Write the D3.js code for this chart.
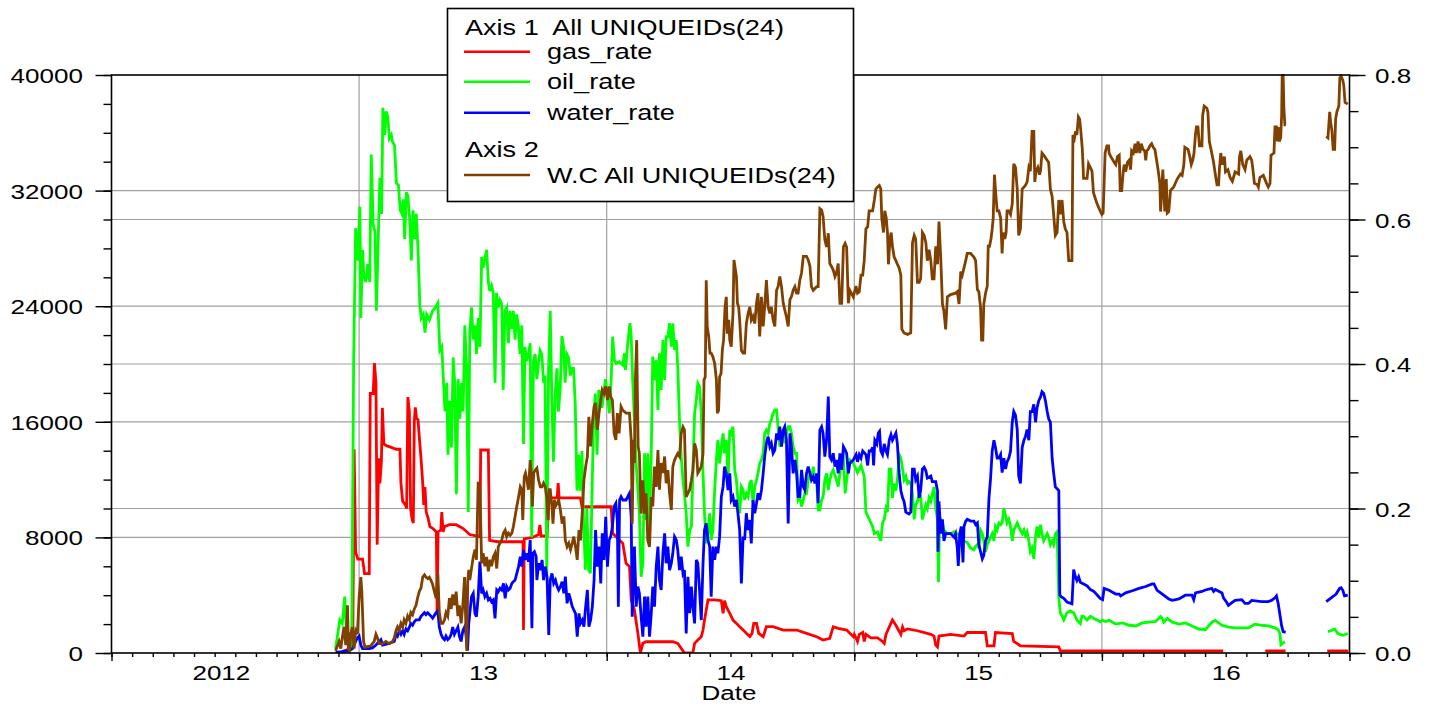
<!DOCTYPE html>
<html>
<head>
<meta charset="utf-8">
<script src="https://cdn.jsdelivr.net/npm/d3@7"></script>
<style>
  html, body { margin: 0; padding: 0; background: #fff; }
  svg { display: block; }
  text { font-family: "Liberation Sans", Arial, sans-serif; font-size: 21px; fill: #000; }
  .legend text { font-size: 21.5px; }
</style>
</head>
<body>
<svg id="chart" width="1432" height="706"></svg>
<script>
// ---- data: [decimal year, value] ----
const yearLabels = ["2012", "13", "14", "15", "16"];
const leftTicks  = [0, 8000, 16000, 24000, 32000, 40000];
const rightTicks = [0, 0.2, 0.4, 0.6, 0.8];

const gasRate = [
[2012.930,100],[2012.965,300],[2012.975,2000],[2012.980,14100],[2012.986,7000],[2012.995,6500],[2013.014,6500],[2013.022,5500],[2013.041,5500],[2013.045,17960],[2013.057,17960],[2013.062,20070],[2013.068,18700],[2013.073,7500],[2013.079,13480],[2013.084,11740],[2013.090,13230],[2013.094,16960],[2013.100,14470],[2013.110,14350],[2013.130,14230],[2013.150,14100],[2013.165,14100],[2013.169,11740],[2013.176,10490],[2013.187,10250],[2013.192,10000],[2013.197,17710],[2013.203,16710],[2013.208,10000],[2013.214,9250],[2013.219,9000],[2013.223,16010],[2013.227,17000],[2013.232,16260],[2013.238,16140],[2013.243,14970],[2013.250,13480],[2013.257,11740],[2013.261,10250],[2013.266,11490],[2013.271,9750],[2013.278,9380],[2013.286,8750],[2013.297,8630],[2013.312,8380],[2013.315,2790],[2013.319,8380],[2013.330,8510],[2013.334,9750],[2013.339,8380],[2013.345,8750],[2013.365,8880],[2013.392,8880],[2013.419,8630],[2013.447,8200],[2013.488,8050],[2013.491,14050],[2013.522,14050],[2013.527,7800],[2013.560,7700],[2013.600,7700],[2013.662,7700],[2013.664,1590],[2013.667,7900],[2013.700,8000],[2013.725,8200],[2013.730,8860],[2013.735,8100],[2013.759,8100],[2013.768,10730],[2013.800,10730],[2013.804,11760],[2013.808,10730],[2013.894,10730],[2013.900,10120],[2013.960,10130],[2014.018,10130],
[2014.024,8280],[2014.038,8050],[2014.051,7820],[2014.065,7590],[2014.078,6210],[2014.092,5980],[2014.099,3670],[2014.112,2980],[2014.126,1360],[2014.132,550],[2014.136,0],[2014.146,670],[2014.159,780],[2014.200,780],[2014.267,780],[2014.287,670],[2014.301,320],[2014.314,0],[2014.348,0],[2014.355,670],[2014.368,900],[2014.382,1130],[2014.389,1590],[2014.395,2280],[2014.402,2980],[2014.409,3670],[2014.436,3670],[2014.463,3620],[2014.470,2750],[2014.476,3620],[2014.483,3210],[2014.497,2750],[2014.510,2280],[2014.524,2050],[2014.537,1820],[2014.551,1590],[2014.564,1360],[2014.578,1130],[2014.587,1360],[2014.594,2050],[2014.605,2050],[2014.614,1360],[2014.632,1130],[2014.645,1820],[2014.672,1820],[2014.713,1590],[2014.767,1590],[2014.807,1360],[2014.848,1130],[2014.874,900],[2014.901,1020],[2014.915,1820],[2014.935,1710],[2014.969,1590],[2014.996,1130],
[2015.000,1290],[2015.013,800],[2015.020,1290],[2015.034,1420],[2015.040,800],[2015.047,1290],[2015.067,1040],[2015.094,1040],[2015.114,800],[2015.121,670],[2015.128,1290],[2015.141,1790],[2015.154,2290],[2015.168,1920],[2015.188,1290],[2015.195,1790],[2015.201,1540],[2015.215,1670],[2015.255,1540],[2015.309,1290],[2015.322,1170],[2015.329,550],[2015.336,420],[2015.342,1170],[2015.389,1290],[2015.443,1170],[2015.456,1420],[2015.497,1420],[2015.530,1420],[2015.537,500],[2015.564,500],[2015.570,1420],[2015.638,1340],[2015.644,800],[2015.671,500],[2015.826,420],[2015.832,170],[2016.034,150],[2016.490,150],[2016.570,null],[2016.660,150],[2016.742,150],[2016.820,null],[2016.910,150],[2016.995,150]
];

const oilRate = [
[2012.905,300],[2012.922,2290],[2012.932,2040],[2012.942,3900],[2012.949,1290],[2012.959,170],[2012.970,300],[2012.978,20190],[2012.986,29400],[2012.995,27160],[2013.003,30890],[2013.007,23180],[2013.014,27900],[2013.019,26160],[2013.027,25670],[2013.035,26910],[2013.043,25670],[2013.049,34500],[2013.057,29650],[2013.064,29150],[2013.070,23680],[2013.078,29150],[2013.084,32880],[2013.091,30390],[2013.096,37730],[2013.103,35860],[2013.109,37480],[2013.116,37110],[2013.122,35610],[2013.130,35860],[2013.135,35370],[2013.143,35120],[2013.151,32500],[2013.159,32380],[2013.166,30640],[2013.173,30390],[2013.178,31390],[2013.184,28650],[2013.191,31880],[2013.197,31640],[2013.204,30140],[2013.211,27160],[2013.218,30640],[2013.224,28650],[2013.231,30390],[2013.238,27900],[2013.245,24170],[2013.251,23180],[2013.259,23430],[2013.266,22180],[2013.273,23430],[2013.284,23050],[2013.297,23680],[2013.308,23920],[2013.318,24220],[2013.326,20940],[2013.334,21190],[2013.341,18700],[2013.347,16710],[2013.354,18700],[2013.359,13730],[2013.366,17460],[2013.373,14230],[2013.380,20440],[2013.386,18700],[2013.393,10990],[2013.400,18950],[2013.407,16210],[2013.414,18700],[2013.420,16710],[2013.427,22680],[2013.434,19700],[2013.441,9750],[2013.447,22180],[2013.454,23920],[2013.461,21690],[2013.468,22680],[2013.474,20690],[2013.481,23180],[2013.488,21190],[2013.495,27410],[2013.501,26660],[2013.508,27280],[2013.515,27900],[2013.522,25670],[2013.528,25040],[2013.535,25420],[2013.542,24920],[2013.549,18700],[2013.555,24920],[2013.562,23920],[2013.569,24420],[2013.576,24170],[2013.582,18200],[2013.589,23680],[2013.596,23920],[2013.603,21440],[2013.609,23680],[2013.616,22430],[2013.623,23680],[2013.630,21690],[2013.636,23430],[2013.643,22680],[2013.650,20690],[2013.657,22680],[2013.664,14470],[2013.670,21190],[2013.677,20190],[2013.684,20690],[2013.691,21440],[2013.697,8010],[2013.704,20190],[2013.711,20690],[2013.718,18950],[2013.724,19950],[2013.731,20940],[2013.738,20690],[2013.745,18700],[2013.751,19200],[2013.758,5520],[2013.765,19450],[2013.772,23680],[2013.778,17960],[2013.785,13230],[2013.792,17960],[2013.799,19700],[2013.805,16710],[2013.812,18200],[2013.819,21940],[2013.826,21190],[2013.832,18700],[2013.839,20690],[2013.846,20440],[2013.853,19200],[2013.859,19700],[2013.866,19700],[2013.873,17210],[2013.880,11240],[2013.886,13730],[2013.893,11240],[2013.900,13980],[2013.907,8750],[2013.914,5770],[2013.920,10000],[2013.927,5770],[2013.934,5520],[2013.941,11240],[2013.947,16210],[2013.954,17960],[2013.961,13730],[2013.968,18200],[2013.974,17960],[2013.981,16960],[2013.988,17960],[2013.995,18950],
[2014.011,16590],[2014.018,18890],[2014.024,21890],[2014.031,20280],[2014.038,20050],[2014.051,20160],[2014.065,19930],[2014.072,20740],[2014.076,19590],[2014.085,21430],[2014.094,22820],[2014.099,21890],[2014.105,18890],[2014.119,13130],[2014.132,9670],[2014.139,5280],[2014.146,6210],[2014.153,13820],[2014.159,9200],[2014.166,13820],[2014.173,8510],[2014.180,13820],[2014.186,20510],[2014.193,18890],[2014.200,20280],[2014.207,16820],[2014.213,20740],[2014.220,18200],[2014.227,21660],[2014.234,18890],[2014.240,21890],[2014.247,21890],[2014.254,22820],[2014.261,21200],[2014.267,22820],[2014.274,20970],[2014.281,21660],[2014.287,19820],[2014.294,16130],[2014.301,13590],[2014.308,11970],[2014.314,11050],[2014.321,9670],[2014.328,7360],[2014.335,8510],[2014.342,8740],[2014.348,12430],[2014.355,16590],[2014.362,17510],[2014.368,18660],[2014.375,18430],[2014.382,16590],[2014.389,12430],[2014.395,9670],[2014.402,7590],[2014.409,8280],[2014.416,9670],[2014.422,7820],[2014.429,8510],[2014.436,11280],[2014.443,13360],[2014.449,14740],[2014.456,13130],[2014.463,14280],[2014.470,15200],[2014.476,13820],[2014.483,14740],[2014.490,11970],[2014.497,15430],[2014.503,15200],[2014.510,15660],[2014.517,12670],[2014.524,11970],[2014.530,10590],[2014.537,9670],[2014.544,11510],[2014.551,11280],[2014.557,10590],[2014.564,11050],[2014.571,10820],[2014.578,11740],[2014.584,11970],[2014.591,10360],[2014.598,11510],[2014.605,11970],[2014.611,12430],[2014.618,13130],[2014.625,13360],[2014.632,13820],[2014.638,15200],[2014.645,15430],[2014.652,15200],[2014.659,15900],[2014.665,16130],[2014.672,16590],[2014.679,16820],[2014.686,16820],[2014.692,15660],[2014.699,14280],[2014.706,14740],[2014.713,15200],[2014.719,14510],[2014.726,15200],[2014.733,15660],[2014.740,15660],[2014.746,15200],[2014.753,14280],[2014.760,13820],[2014.767,13820],[2014.773,10590],[2014.780,10820],[2014.787,10130],[2014.794,10590],[2014.800,11050],[2014.807,11050],[2014.814,11970],[2014.821,12430],[2014.827,11970],[2014.834,12900],[2014.841,11970],[2014.848,11970],[2014.854,9900],[2014.861,9900],[2014.868,10590],[2014.874,10820],[2014.881,11970],[2014.888,12430],[2014.895,11280],[2014.901,11970],[2014.908,12430],[2014.915,12670],[2014.928,11970],[2014.935,11510],[2014.942,12430],[2014.949,13360],[2014.956,13590],[2014.963,11050],[2014.969,11970],[2014.976,12900],[2014.982,13360],[2014.996,13130],
[2015.000,12980],[2015.013,12480],[2015.027,12980],[2015.040,12240],[2015.047,9750],[2015.054,9500],[2015.067,9000],[2015.074,8750],[2015.081,8260],[2015.094,8380],[2015.101,8010],[2015.107,7760],[2015.114,9000],[2015.121,9250],[2015.128,10000],[2015.134,9750],[2015.141,12730],[2015.148,12730],[2015.154,10740],[2015.161,11740],[2015.168,11240],[2015.174,11990],[2015.181,13730],[2015.188,13480],[2015.195,12730],[2015.201,11990],[2015.208,12240],[2015.215,11740],[2015.221,11860],[2015.228,11740],[2015.235,10990],[2015.242,9250],[2015.248,10250],[2015.255,10490],[2015.262,10990],[2015.268,10870],[2015.275,9250],[2015.282,9750],[2015.289,10250],[2015.295,10000],[2015.302,10740],[2015.309,10490],[2015.315,10990],[2015.322,11490],[2015.329,10000],[2015.336,9250],[2015.340,4900],[2015.344,8750],[2015.349,9250],[2015.356,9000],[2015.362,8510],[2015.376,8260],[2015.389,8260],[2015.403,8380],[2015.416,8260],[2015.430,8130],[2015.443,7760],[2015.456,7640],[2015.470,7260],[2015.483,7140],[2015.490,7390],[2015.497,7510],[2015.503,7260],[2015.510,8510],[2015.517,8260],[2015.523,7760],[2015.530,7010],[2015.537,7510],[2015.544,7760],[2015.550,8010],[2015.557,8260],[2015.564,7760],[2015.570,8750],[2015.577,8510],[2015.584,9000],[2015.591,8880],[2015.597,9000],[2015.604,10000],[2015.611,9500],[2015.617,9000],[2015.624,9250],[2015.631,8750],[2015.638,7760],[2015.644,8510],[2015.651,8750],[2015.658,9000],[2015.664,8750],[2015.671,8510],[2015.678,8260],[2015.685,8510],[2015.691,8130],[2015.698,8380],[2015.705,7760],[2015.711,7010],[2015.718,7260],[2015.725,6520],[2015.732,8010],[2015.738,8750],[2015.745,8010],[2015.752,8880],[2015.758,8260],[2015.765,7760],[2015.772,8010],[2015.779,8260],[2015.785,8010],[2015.792,7510],[2015.799,7760],[2015.805,7510],[2015.812,8260],[2015.819,8380],[2015.826,3780],[2015.832,2790],[2015.846,2290],[2015.859,2790],[2015.872,2910],[2015.886,2790],[2015.899,2290],[2015.913,2040],[2015.919,2540],[2015.926,2540],[2015.940,2290],[2015.953,2540],[2015.966,2410],[2015.980,2290],[2015.993,2160],
[2016.003,2260],[2016.016,2180],[2016.029,2260],[2016.043,2130],[2016.056,2000],[2016.083,2080],[2016.110,1920],[2016.137,1870],[2016.163,2080],[2016.190,2130],[2016.217,2180],[2016.237,2520],[2016.244,2390],[2016.250,2130],[2016.264,2390],[2016.284,2130],[2016.311,2000],[2016.337,2080],[2016.364,1870],[2016.391,1660],[2016.418,1610],[2016.431,1870],[2016.444,2130],[2016.458,2260],[2016.485,1920],[2016.511,1790],[2016.538,1740],[2016.565,1740],[2016.592,1740],[2016.605,1870],[2016.618,2000],[2016.645,1920],[2016.672,1870],[2016.699,1740],[2016.712,1610],[2016.719,1350],[2016.723,570],[2016.732,700],[2016.739,780],[2016.800,null],[2016.913,1480],[2016.926,1560],[2016.940,1660],[2016.953,1350],[2016.973,1220],[2016.993,1350]
];

const waterRate = [
[2012.905,50],[2012.932,100],[2012.959,170],[2012.973,300],[2012.980,550],[2012.986,800],[2012.993,1040],[2013.000,1170],[2013.007,550],[2013.014,300],[2013.041,300],[2013.054,350],[2013.068,550],[2013.081,800],[2013.088,920],[2013.095,550],[2013.122,670],[2013.142,800],[2013.149,1290],[2013.155,1170],[2013.162,1540],[2013.169,1290],[2013.176,1540],[2013.182,1290],[2013.189,1670],[2013.196,1540],[2013.203,1790],[2013.209,2040],[2013.216,1920],[2013.223,2160],[2013.230,2290],[2013.243,2290],[2013.250,2540],[2013.257,2660],[2013.264,2790],[2013.270,2660],[2013.277,2790],[2013.291,2540],[2013.297,2410],[2013.311,2790],[2013.318,2910],[2013.324,1790],[2013.331,1290],[2013.338,1040],[2013.345,920],[2013.351,1170],[2013.358,920],[2013.365,1040],[2013.372,1290],[2013.378,1790],[2013.385,1290],[2013.392,1540],[2013.399,1790],[2013.405,1170],[2013.412,800],[2013.419,1540],[2013.426,1790],[2013.432,1290],[2013.438,170],[2013.443,2040],
[2013.447,2745],[2013.454,3900],[2013.461,4130],[2013.468,2745],[2013.474,2510],[2013.481,3900],[2013.488,6320],[2013.495,4130],[2013.501,4360],[2013.508,3900],[2013.515,4130],[2013.522,3670],[2013.529,3780],[2013.535,3550],[2013.542,3670],[2013.549,2400],[2013.556,4360],[2013.562,4240],[2013.569,4480],[2013.576,4360],[2013.583,4820],[2013.590,3780],[2013.596,4590],[2013.603,4360],[2013.610,4480],[2013.617,4820],[2013.623,4940],[2013.630,5050],[2013.637,5510],[2013.644,5980],[2013.651,6670],[2013.657,5980],[2013.664,7130],[2013.671,6440],[2013.678,6900],[2013.684,6320],[2013.691,7820],[2013.698,1710],[2013.702,6900],[2013.708,7010],[2013.715,6670],[2013.718,5050],[2013.725,6210],[2013.732,5740],[2013.739,6440],[2013.745,5050],[2013.752,5980],[2013.759,5280],[2013.766,1250],[2013.772,5050],[2013.779,5510],[2013.786,4820],[2013.793,5050],[2013.800,4590],[2013.806,4360],[2013.813,4590],[2013.820,4940],[2013.827,4130],[2013.833,5280],[2013.840,3440],[2013.847,4130],[2013.854,3670],[2013.861,3210],[2013.867,2980],[2013.874,2745],[2013.881,1130],[2013.888,2745],[2013.894,2050],[2013.901,2280],[2013.908,1820],[2013.915,3210],[2013.922,4360],[2013.928,1820],[2013.935,2280],[2013.942,3210],[2013.949,5050],[2013.955,8510],[2013.962,5980],[2013.969,7360],[2013.976,4820],[2013.982,8280],[2013.989,6440],[2013.996,9430],[2014.003,5980],[2014.010,7820],[2014.016,8050],[2014.023,8740],[2014.030,10130],[2014.037,10360],[2014.043,9200],[2014.047,3210],
[2014.052,10590],[2014.058,10820],[2014.065,10590],[2014.078,10590],[2014.092,11050],[2014.099,9440],[2014.103,2510],[2014.112,7360],[2014.119,3210],[2014.126,4590],[2014.132,4130],[2014.139,2510],[2014.146,1130],[2014.153,3900],[2014.159,1820],[2014.166,3900],[2014.173,1130],[2014.180,2750],[2014.186,4590],[2014.193,3210],[2014.200,5980],[2014.207,7360],[2014.213,5050],[2014.220,4360],[2014.227,6900],[2014.234,8280],[2014.240,6210],[2014.247,7360],[2014.254,5740],[2014.261,6210],[2014.267,6900],[2014.274,8050],[2014.281,7820],[2014.287,7130],[2014.294,5740],[2014.301,6670],[2014.308,5510],[2014.314,5740],[2014.321,1360],[2014.328,5280],[2014.335,2750],[2014.342,4590],[2014.348,3210],[2014.355,2050],[2014.362,6440],[2014.368,6210],[2014.375,4360],[2014.382,2280],[2014.389,6210],[2014.395,8510],[2014.402,8970],[2014.409,7820],[2014.416,7360],[2014.422,3900],[2014.429,7360],[2014.436,6440],[2014.443,7360],[2014.449,6900],[2014.456,8050],[2014.463,10820],[2014.470,11510],[2014.476,12900],[2014.483,12430],[2014.490,11280],[2014.497,12430],[2014.503,10590],[2014.510,10820],[2014.517,10130],[2014.524,10590],[2014.530,9670],[2014.537,8510],[2014.544,4820],[2014.551,8050],[2014.557,7820],[2014.564,9670],[2014.571,8510],[2014.578,9200],[2014.584,7590],[2014.591,10590],[2014.598,9670],[2014.605,10360],[2014.611,11050],[2014.618,10590],[2014.625,11280],[2014.632,12430],[2014.638,13590],[2014.645,14510],[2014.652,14970],[2014.659,14280],[2014.665,14510],[2014.672,13820],[2014.679,14050],[2014.686,15200],[2014.692,14740],[2014.699,15660],[2014.706,14280],[2014.713,15430],[2014.719,15660],[2014.726,14740],[2014.733,8970],[2014.740,15200],[2014.746,14280],[2014.753,12430],[2014.760,13360],[2014.767,12430],[2014.773,10820],[2014.780,10820],[2014.787,12670],[2014.794,11510],[2014.800,11280],[2014.807,12430],[2014.814,12900],[2014.821,12430],[2014.827,11970],[2014.834,12200],[2014.841,11740],[2014.848,12430],[2014.854,10360],[2014.861,15430],[2014.868,15660],[2014.874,15200],[2014.881,13590],[2014.888,14740],[2014.895,17740],[2014.901,13590],[2014.908,13360],[2014.915,13820],[2014.922,12900],[2014.928,13360],[2014.935,12430],[2014.942,13820],[2014.949,12670],[2014.956,14280],[2014.963,14050],[2014.969,13820],[2014.976,12430],[2014.982,13130],[2014.996,13360],
[2015.007,13730],[2015.013,13230],[2015.020,13730],[2015.027,13480],[2015.034,13980],[2015.047,13730],[2015.054,12980],[2015.060,13980],[2015.067,13980],[2015.074,14230],[2015.078,12980],[2015.083,14720],[2015.091,14470],[2015.097,15220],[2015.102,15340],[2015.107,13980],[2015.114,13730],[2015.121,14470],[2015.128,13980],[2015.134,13730],[2015.141,14720],[2015.148,15100],[2015.154,14720],[2015.161,14970],[2015.168,15220],[2015.174,14470],[2015.181,12480],[2015.188,11240],[2015.195,10740],[2015.201,10490],[2015.208,9750],[2015.221,9620],[2015.228,9750],[2015.235,12730],[2015.242,12730],[2015.248,11990],[2015.255,12240],[2015.262,10740],[2015.268,11240],[2015.275,12730],[2015.282,12860],[2015.289,12610],[2015.295,12110],[2015.309,12240],[2015.315,11860],[2015.329,11860],[2015.336,11240],[2015.338,7010],[2015.342,10490],[2015.349,8260],[2015.356,9250],[2015.362,7760],[2015.369,8260],[2015.389,8260],[2015.403,8010],[2015.409,8260],[2015.416,7260],[2015.420,6020],[2015.426,8260],[2015.432,8750],[2015.439,6270],[2015.443,8750],[2015.450,9130],[2015.456,9250],[2015.470,9130],[2015.483,9130],[2015.490,8880],[2015.497,9000],[2015.503,7510],[2015.510,7010],[2015.517,6520],[2015.523,6760],[2015.530,7760],[2015.537,8010],[2015.544,10740],[2015.550,11990],[2015.557,13980],[2015.564,14720],[2015.570,14230],[2015.577,13480],[2015.584,13480],[2015.591,13730],[2015.597,12480],[2015.604,13480],[2015.611,12730],[2015.617,13230],[2015.624,13480],[2015.631,13980],[2015.638,15970],[2015.644,16710],[2015.651,16460],[2015.658,15470],[2015.664,12240],[2015.671,11740],[2015.678,14230],[2015.685,14720],[2015.691,14970],[2015.698,15470],[2015.705,14720],[2015.711,16710],[2015.718,16710],[2015.725,17210],[2015.732,15970],[2015.738,16960],[2015.745,17460],[2015.752,17710],[2015.758,18080],[2015.765,17960],[2015.772,17460],[2015.779,16710],[2015.785,16210],[2015.792,15970],[2015.799,13480],[2015.805,12480],[2015.812,11490],[2015.819,11370],[2015.826,11240],[2015.830,4030],[2015.835,3900],[2015.846,3780],[2015.859,3530],[2015.879,3410],[2015.886,5770],[2015.893,5270],[2015.899,5020],[2015.906,5270],[2015.913,4900],[2015.926,4780],[2015.940,4650],[2015.953,4400],[2015.966,4280],[2015.980,4030],[2015.993,3780],
[2016.003,3690],[2016.009,4470],[2016.029,4340],[2016.043,4210],[2016.056,4080],[2016.070,4080],[2016.076,3950],[2016.096,4160],[2016.123,4310],[2016.150,4470],[2016.177,4600],[2016.203,4780],[2016.210,4780],[2016.223,4340],[2016.244,4080],[2016.270,3740],[2016.284,3640],[2016.311,3740],[2016.337,4000],[2016.364,4000],[2016.371,3690],[2016.378,4160],[2016.404,4260],[2016.418,4360],[2016.444,4470],[2016.451,4260],[2016.458,4390],[2016.485,4160],[2016.491,3820],[2016.505,3480],[2016.511,3300],[2016.525,3480],[2016.538,3640],[2016.565,3690],[2016.578,3430],[2016.592,3430],[2016.605,3640],[2016.645,3560],[2016.672,3560],[2016.685,3640],[2016.699,3820],[2016.705,3950],[2016.712,3430],[2016.719,2650],[2016.726,1870],[2016.732,1480],[2016.742,1430],[2016.800,null],[2016.906,3560],[2016.926,3820],[2016.946,4080],[2016.960,4470],[2016.966,4520],[2016.973,4340],[2016.980,3950],[2016.993,4000]
];

const waterCut = [
[2012.905,0.003],[2012.919,0.016],[2012.926,0.006],[2012.932,0.021],[2012.939,0.036],[2012.946,0.011],[2012.953,0.066],[2012.957,0.006],[2012.962,0.003],[2012.966,0.026],[2012.973,0.036],[2012.980,0.006],[2012.986,0.031],[2012.993,0.026],[2013.000,0.076],[2013.007,0.105],[2013.011,0.085],[2013.014,0.056],[2013.018,0.016],[2013.024,0.008],[2013.047,0.010],[2013.061,0.016],[2013.068,0.026],[2013.074,0.021],[2013.081,0.013],[2013.095,0.013],[2013.108,0.016],[2013.122,0.013],[2013.135,0.016],[2013.142,0.021],[2013.149,0.031],[2013.155,0.036],[2013.162,0.031],[2013.169,0.041],[2013.176,0.036],[2013.182,0.046],[2013.189,0.041],[2013.196,0.051],[2013.203,0.046],[2013.209,0.056],[2013.216,0.053],[2013.223,0.061],[2013.230,0.066],[2013.236,0.076],[2013.243,0.085],[2013.250,0.090],[2013.257,0.105],[2013.264,0.108],[2013.270,0.105],[2013.277,0.103],[2013.284,0.105],[2013.291,0.100],[2013.297,0.095],[2013.304,0.085],[2013.311,0.076],[2013.318,0.110],[2013.324,0.056],[2013.331,0.041],[2013.338,0.041],[2013.345,0.046],[2013.351,0.056],[2013.358,0.051],[2013.365,0.076],[2013.372,0.061],[2013.378,0.081],[2013.385,0.066],[2013.392,0.085],[2013.399,0.051],[2013.405,0.066],[2013.412,0.041],[2013.419,0.066],[2013.426,0.105],[2013.432,0.026],[2013.435,0.003],[2013.439,0.100],[2013.443,0.115],
[2013.447,0.101],[2013.461,0.133],[2013.468,0.143],[2013.474,0.129],[2013.481,0.237],[2013.488,0.226],[2013.495,0.124],[2013.501,0.138],[2013.508,0.120],[2013.515,0.133],[2013.522,0.113],[2013.529,0.129],[2013.535,0.120],[2013.542,0.133],[2013.549,0.138],[2013.556,0.117],[2013.562,0.147],[2013.569,0.152],[2013.576,0.156],[2013.583,0.166],[2013.590,0.170],[2013.596,0.161],[2013.603,0.166],[2013.610,0.163],[2013.617,0.166],[2013.623,0.175],[2013.630,0.189],[2013.637,0.203],[2013.644,0.216],[2013.651,0.230],[2013.657,0.226],[2013.661,0.184],[2013.667,0.244],[2013.672,0.249],[2013.678,0.239],[2013.684,0.226],[2013.691,0.267],[2013.695,0.249],[2013.700,0.203],[2013.705,0.249],[2013.711,0.253],[2013.718,0.256],[2013.725,0.239],[2013.732,0.230],[2013.739,0.230],[2013.745,0.235],[2013.752,0.230],[2013.759,0.212],[2013.763,0.184],[2013.768,0.226],[2013.772,0.226],[2013.779,0.203],[2013.783,0.179],[2013.789,0.212],[2013.793,0.203],[2013.800,0.207],[2013.806,0.212],[2013.813,0.198],[2013.820,0.179],[2013.827,0.189],[2013.833,0.156],[2013.840,0.147],[2013.847,0.152],[2013.854,0.143],[2013.861,0.152],[2013.867,0.161],[2013.874,0.147],[2013.881,0.129],[2013.888,0.170],[2013.894,0.156],[2013.901,0.193],[2013.908,0.239],[2013.915,0.258],[2013.922,0.272],[2013.928,0.327],[2013.935,0.286],[2013.942,0.318],[2013.949,0.341],[2013.955,0.346],[2013.962,0.309],[2013.969,0.332],[2013.976,0.350],[2013.982,0.364],[2013.989,0.359],[2013.996,0.369],[2014.003,0.350],[2014.010,0.369],[2014.016,0.355],[2014.023,0.350],[2014.030,0.304],[2014.037,0.295],[2014.043,0.332],[2014.050,0.304],
[2014.058,0.341],[2014.065,0.336],[2014.078,0.332],[2014.092,0.332],[2014.099,0.295],[2014.103,0.179],[2014.108,0.295],[2014.112,0.263],[2014.116,0.378],[2014.121,0.433],[2014.127,0.286],[2014.132,0.276],[2014.139,0.193],[2014.146,0.239],[2014.153,0.193],[2014.159,0.221],[2014.166,0.156],[2014.173,0.147],[2014.180,0.216],[2014.186,0.203],[2014.193,0.258],[2014.200,0.230],[2014.207,0.281],[2014.213,0.226],[2014.220,0.263],[2014.227,0.249],[2014.234,0.272],[2014.240,0.235],[2014.247,0.253],[2014.254,0.221],[2014.261,0.198],[2014.267,0.258],[2014.274,0.267],[2014.281,0.272],[2014.287,0.276],[2014.294,0.272],[2014.301,0.304],[2014.308,0.313],[2014.314,0.309],[2014.321,0.216],[2014.328,0.221],[2014.335,0.226],[2014.342,0.239],[2014.348,0.253],[2014.355,0.290],[2014.362,0.281],[2014.368,0.249],[2014.375,0.253],[2014.382,0.258],[2014.389,0.276],[2014.393,0.378],[2014.398,0.382],[2014.402,0.516],[2014.406,0.452],[2014.412,0.438],[2014.417,0.415],[2014.422,0.415],[2014.429,0.410],[2014.436,0.401],[2014.443,0.378],[2014.447,0.332],[2014.452,0.336],[2014.456,0.382],[2014.462,0.387],[2014.467,0.419],[2014.472,0.433],[2014.478,0.479],[2014.483,0.493],[2014.487,0.442],[2014.493,0.461],[2014.497,0.433],[2014.503,0.424],[2014.510,0.470],[2014.514,0.544],[2014.520,0.530],[2014.524,0.521],[2014.528,0.484],[2014.533,0.479],[2014.537,0.461],[2014.544,0.419],[2014.551,0.415],[2014.557,0.415],[2014.564,0.456],[2014.571,0.470],[2014.578,0.479],[2014.584,0.461],[2014.591,0.466],[2014.598,0.456],[2014.605,0.484],[2014.611,0.498],[2014.618,0.438],[2014.625,0.493],[2014.632,0.452],[2014.638,0.479],[2014.645,0.516],[2014.652,0.479],[2014.659,0.470],[2014.665,0.479],[2014.672,0.461],[2014.679,0.452],[2014.686,0.502],[2014.692,0.507],[2014.699,0.521],[2014.706,0.507],[2014.713,0.484],[2014.719,0.475],[2014.726,0.465],[2014.733,0.452],[2014.740,0.489],[2014.746,0.493],[2014.753,0.502],[2014.760,0.507],[2014.767,0.498],[2014.773,0.498],[2014.780,0.516],[2014.787,0.526],[2014.794,0.549],[2014.807,0.549],[2014.814,0.544],[2014.821,0.535],[2014.827,0.507],[2014.834,0.502],[2014.848,0.507],[2014.854,0.507],[2014.861,0.615],[2014.868,0.613],[2014.874,0.604],[2014.881,0.572],[2014.888,0.562],[2014.895,0.581],[2014.901,0.539],[2014.908,0.535],[2014.915,0.530],[2014.922,0.521],[2014.928,0.526],[2014.935,0.539],[2014.942,0.484],[2014.949,0.484],[2014.956,0.562],[2014.963,0.567],[2014.969,0.562],[2014.976,0.484],[2014.982,0.502],[2014.996,0.493],
[2015.007,0.508],[2015.013,0.498],[2015.020,0.500],[2015.027,0.523],[2015.034,0.523],[2015.040,0.543],[2015.047,0.587],[2015.054,0.590],[2015.060,0.612],[2015.074,0.612],[2015.081,0.627],[2015.087,0.642],[2015.094,0.645],[2015.101,0.647],[2015.107,0.642],[2015.111,0.602],[2015.118,0.582],[2015.123,0.612],[2015.129,0.602],[2015.134,0.582],[2015.138,0.538],[2015.144,0.573],[2015.149,0.582],[2015.154,0.563],[2015.161,0.548],[2015.168,0.543],[2015.174,0.538],[2015.181,0.533],[2015.188,0.523],[2015.192,0.448],[2015.201,0.443],[2015.215,0.441],[2015.228,0.443],[2015.235,0.568],[2015.242,0.578],[2015.248,0.573],[2015.255,0.513],[2015.262,0.513],[2015.268,0.518],[2015.275,0.582],[2015.282,0.578],[2015.289,0.568],[2015.295,0.543],[2015.302,0.558],[2015.309,0.543],[2015.315,0.518],[2015.322,0.518],[2015.329,0.563],[2015.336,0.538],[2015.342,0.597],[2015.349,0.548],[2015.356,0.483],[2015.362,0.473],[2015.369,0.448],[2015.376,0.493],[2015.389,0.496],[2015.409,0.498],[2015.416,0.500],[2015.423,0.483],[2015.430,0.528],[2015.436,0.523],[2015.443,0.533],[2015.450,0.543],[2015.456,0.553],[2015.470,0.553],[2015.483,0.548],[2015.490,0.543],[2015.497,0.503],[2015.503,0.500],[2015.510,0.478],[2015.514,0.433],[2015.519,0.433],[2015.523,0.483],[2015.530,0.498],[2015.537,0.508],[2015.541,0.563],[2015.546,0.563],[2015.552,0.573],[2015.557,0.587],[2015.561,0.602],[2015.566,0.662],[2015.572,0.632],[2015.577,0.612],[2015.584,0.612],[2015.591,0.602],[2015.597,0.553],[2015.601,0.582],[2015.608,0.573],[2015.613,0.582],[2015.617,0.612],[2015.624,0.612],[2015.631,0.607],[2015.638,0.622],[2015.644,0.677],[2015.651,0.672],[2015.658,0.642],[2015.664,0.578],[2015.671,0.587],[2015.678,0.642],[2015.691,0.647],[2015.698,0.652],[2015.705,0.672],[2015.711,0.667],[2015.718,0.722],[2015.725,0.722],[2015.729,0.652],[2015.734,0.667],[2015.741,0.672],[2015.748,0.662],[2015.752,0.667],[2015.758,0.692],[2015.765,0.689],[2015.779,0.682],[2015.785,0.679],[2015.792,0.642],[2015.799,0.632],[2015.805,0.607],[2015.812,0.578],[2015.819,0.582],[2015.826,0.627],[2015.832,0.607],[2015.839,0.627],[2015.846,0.597],[2015.852,0.587],[2015.859,0.582],[2015.866,0.543],[2015.879,0.543],[2015.883,0.717],[2015.889,0.712],[2015.894,0.722],[2015.899,0.717],[2015.905,0.742],[2015.910,0.739],[2015.915,0.722],[2015.921,0.697],[2015.926,0.657],[2015.940,0.657],[2015.946,0.677],[2015.953,0.672],[2015.960,0.667],[2015.966,0.637],[2015.980,0.622],[2015.993,0.612],[2016.000,0.607],
[2016.005,0.609],[2016.009,0.650],[2016.013,0.692],[2016.020,0.702],[2016.027,0.702],[2016.029,0.692],[2016.036,0.687],[2016.050,0.679],[2016.056,0.676],[2016.063,0.687],[2016.070,0.689],[2016.074,0.640],[2016.080,0.640],[2016.086,0.666],[2016.090,0.676],[2016.096,0.666],[2016.103,0.679],[2016.110,0.682],[2016.116,0.669],[2016.120,0.695],[2016.127,0.692],[2016.134,0.705],[2016.139,0.692],[2016.146,0.708],[2016.153,0.692],[2016.159,0.705],[2016.166,0.697],[2016.173,0.695],[2016.177,0.682],[2016.181,0.695],[2016.187,0.697],[2016.194,0.702],[2016.201,0.705],[2016.207,0.700],[2016.214,0.697],[2016.221,0.682],[2016.228,0.666],[2016.234,0.650],[2016.237,0.611],[2016.241,0.635],[2016.246,0.669],[2016.250,0.640],[2016.254,0.611],[2016.260,0.656],[2016.264,0.609],[2016.270,0.611],[2016.277,0.640],[2016.290,0.645],[2016.304,0.656],[2016.317,0.663],[2016.324,0.661],[2016.331,0.676],[2016.335,0.700],[2016.348,0.697],[2016.355,0.687],[2016.361,0.676],[2016.367,0.682],[2016.372,0.692],[2016.378,0.718],[2016.382,0.728],[2016.388,0.728],[2016.394,0.702],[2016.404,0.702],[2016.407,0.744],[2016.413,0.757],[2016.424,0.754],[2016.428,0.749],[2016.434,0.708],[2016.442,0.695],[2016.451,0.679],[2016.461,0.656],[2016.465,0.648],[2016.471,0.648],[2016.475,0.671],[2016.480,0.692],[2016.486,0.676],[2016.495,0.687],[2016.499,0.666],[2016.509,0.669],[2016.518,0.658],[2016.527,0.653],[2016.538,0.666],[2016.552,0.663],[2016.556,0.687],[2016.561,0.695],[2016.569,0.676],[2016.578,0.669],[2016.585,0.682],[2016.598,0.687],[2016.605,0.682],[2016.610,0.669],[2016.616,0.650],[2016.628,0.648],[2016.632,0.645],[2016.638,0.658],[2016.652,0.661],[2016.665,0.650],[2016.672,0.645],[2016.679,0.650],[2016.683,0.689],[2016.695,0.692],[2016.699,0.728],[2016.705,0.728],[2016.709,0.708],[2016.712,0.728],[2016.716,0.708],[2016.722,0.713],[2016.726,0.744],[2016.728,0.798],[2016.732,0.800],[2016.735,0.754],[2016.739,0.731],[2016.743,0.731],[2016.800,null],[2016.906,0.715],[2016.913,0.713],[2016.920,0.749],[2016.924,0.734],[2016.929,0.723],[2016.934,0.697],[2016.940,0.697],[2016.944,0.739],[2016.949,0.749],[2016.957,0.757],[2016.961,0.796],[2016.966,0.798],[2016.973,0.793],[2016.977,0.785],[2016.982,0.762],[2016.993,0.760]
];

// ---- layout ----
const svg = d3.select("#chart");
const plot = { left: 111.5, right: 1349.5, top: 75, bottom: 653 };
const SX = 1.24; // the source picture has horizontally stretched lettering

const x  = d3.scaleLinear().domain([2012, 2017]).range([plot.left, plot.right]);
const yL = d3.scaleLinear().domain([0, 40000]).range([plot.bottom, plot.top]);
const yR = d3.scaleLinear().domain([0, 0.8]).range([plot.bottom, plot.top]);

// gridlines
const grid = svg.append("g").attr("stroke", "#a0a0a0").attr("stroke-width", 1.2);
grid.selectAll(".gl").data(leftTicks.slice(1, -1)).join("line")
  .attr("x1", plot.left).attr("x2", plot.right)
  .attr("y1", d => yL(d)).attr("y2", d => yL(d));
grid.selectAll(".gr").data(rightTicks.slice(1, -1)).join("line")
  .attr("x1", plot.left).attr("x2", plot.right)
  .attr("y1", d => yR(d)).attr("y2", d => yR(d));
grid.selectAll(".gv").data([2013, 2014, 2015, 2016]).join("line")
  .attr("x1", d => x(d)).attr("x2", d => x(d))
  .attr("y1", plot.top).attr("y2", plot.bottom);

// series
svg.append("clipPath").attr("id", "plotClip").append("rect")
  .attr("x", plot.left).attr("y", plot.top - 1)
  .attr("width", plot.right - plot.left).attr("height", plot.bottom - plot.top + 1);

const series = svg.append("g").attr("clip-path", "url(#plotClip)");
function drawLine(data, yScale, color) {
  const line = d3.line()
    .defined(d => d[1] != null)
    .x(d => x(d[0]))
    .y(d => yScale(d[1]));
  series.append("path")
    .datum(data)
    .attr("d", line)
    .attr("fill", "none")
    .attr("stroke", color)
    .attr("stroke-width", 2.8);
}
drawLine(gasRate, yL, "#ff0000");
drawLine(oilRate, yL, "#00ff00");
drawLine(waterRate, yL, "#0000ff");
drawLine(waterCut, yR, "#804000");

// axes
function styleAxis(g) {
  g.select(".domain").remove();
  g.selectAll("line").attr("stroke", "#000").attr("stroke-width", 1.4);
}

const axL = svg.append("g").attr("transform", `translate(${plot.left},0)`)
  .call(d3.axisLeft(yL).tickValues(d3.range(0, 40001, 2000)).tickSize(8).tickFormat(""));
styleAxis(axL);
const axL2 = svg.append("g").attr("transform", `translate(${plot.left},0)`)
  .call(d3.axisLeft(yL).tickValues(leftTicks).tickSize(16).tickFormat(d3.format("d")));
styleAxis(axL2);
axL2.selectAll("text")
  .attr("x", 0).attr("dy", "0.36em")
  .attr("text-anchor", "end")
  .attr("transform", `translate(-28.5,0) scale(${SX},1)`);

const axR = svg.append("g").attr("transform", `translate(${plot.right},0)`)
  .call(d3.axisRight(yR).tickValues(d3.range(0, 0.8001, 0.05)).tickSize(9).tickFormat(""));
styleAxis(axR);
const axR2 = svg.append("g").attr("transform", `translate(${plot.right},0)`)
  .call(d3.axisRight(yR).tickValues(rightTicks).tickSize(16).tickFormat(d3.format(".1f")));
styleAxis(axR2);
axR2.selectAll("text")
  .attr("x", 0).attr("dy", "0.36em")
  .attr("text-anchor", "start")
  .attr("transform", `translate(25.5,0) scale(${SX},1)`);

const monthTicks = d3.range(0, 61).map(i => 2012 + i / 12);
const axB = svg.append("g").attr("transform", `translate(0,${plot.bottom})`)
  .call(d3.axisBottom(x).tickValues(monthTicks).tickSize(4).tickFormat(""));
styleAxis(axB);
const axB2 = svg.append("g").attr("transform", `translate(0,${plot.bottom})`)
  .call(d3.axisBottom(x).tickValues([2012, 2013, 2014, 2015, 2016, 2017]).tickSize(8).tickFormat(""));
styleAxis(axB2);
const axB3 = svg.append("g").attr("transform", `translate(0,${plot.bottom})`)
  .call(d3.axisBottom(x).tickValues(yearLabels.map((d, i) => 2012.5 + i))
    .tickSize(0).tickFormat((d, i) => yearLabels[i]));
axB3.select(".domain").remove();
axB3.selectAll("text")
  .attr("y", 0).attr("dy", 0)
  .attr("text-anchor", (d, i) => i === 0 ? "end" : "middle")
  .attr("transform", (d, i) => `translate(${i === 0 ? 14.5 : 0},27) scale(${SX},1)`);

// frame
svg.append("rect")
  .attr("x", plot.left).attr("y", plot.top)
  .attr("width", plot.right - plot.left).attr("height", plot.bottom - plot.top)
  .attr("fill", "none").attr("stroke", "#000").attr("stroke-width", 1.6);

// axis title
svg.append("text")
  .attr("text-anchor", "middle")
  .attr("transform", `translate(729,699.5) scale(${SX},1)`)
  .text("Date");

// legend
const LSX = 1.26;
const legend = svg.append("g").attr("class", "legend");
legend.append("rect")
  .attr("x", 447.5).attr("y", 8.5).attr("width", 406).attr("height", 193)
  .attr("fill", "#fff").attr("stroke", "#000").attr("stroke-width", 1.6);

const legendRows = [
  { label: "gas_rate",              color: "#ff0000", y: 51.7 },
  { label: "oil_rate",              color: "#00ff00", y: 81.7 },
  { label: "water_rate",            color: "#0000ff", y: 112.7 },
  { label: "W.C All UNIQUEIDs(24)", color: "#804000", y: 175 }
];
const legendHeads = [
  { label: "Axis 1  All UNIQUEIDs(24)", y: 35 },
  { label: "Axis 2", y: 157 }
];

legend.selectAll(".head").data(legendHeads).join("text")
  .attr("transform", d => `translate(465,${d.y}) scale(${LSX},1)`)
  .attr("xml:space", "preserve")
  .style("white-space", "pre")
  .text(d => d.label);

legend.selectAll(".swatch").data(legendRows).join("line")
  .attr("x1", 464).attr("x2", 530)
  .attr("y1", d => d.y).attr("y2", d => d.y)
  .attr("stroke", d => d.color).attr("stroke-width", 2.5);

legend.selectAll(".lbl").data(legendRows).join("text")
  .attr("transform", d => `translate(547,${d.y + 7.5}) scale(${LSX},1)`)
  .text(d => d.label);
</script>
</body>
</html>
